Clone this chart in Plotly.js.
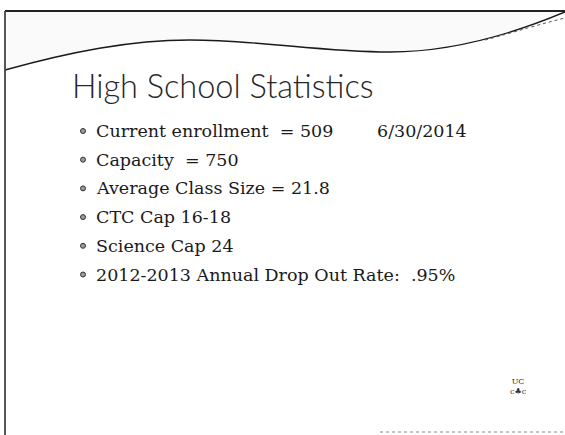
<!DOCTYPE html>
<html>
<head>
<meta charset="utf-8">
<script src="https://cdn.plot.ly/plotly-3.0.1.min.js"></script>
<style>html,body{margin:0;padding:0;background:#fff;}#chart{width:565px;height:435px;}</style>
</head>
<body>
<div id="chart"></div>
<script>
// ---- content ----
const slideTitle = "High School Statistics";
const bulletLabels = [
  "Current enrollment\u00a0\u00a0= 509",
  "Capacity\u00a0\u00a0= 750",
  "Average Class Size = 21.8",
  "CTC Cap 16-18",
  "Science Cap 24",
  "2012-2013 Annual Drop Out Rate:\u00a0\u00a0.95%"
];
const enrollmentDate = "6/30/2014";
const logoText = "UC";

// ---- layout constants (pixel space) ----
const W = 565, H = 435;
const rowTop = 131, rowStep = 28.7;
const bulletX = 83, textX = 94, dateX = 375;
const rowY = bulletLabels.map((_, i) => rowTop + i * rowStep);

const bodyFont = {family: "DejaVu Serif, Liberation Serif, serif", size: 17.5, color: "#1a1a1a"};

const annotations = [];
annotations.push({
  x: 70, y: 85, xref: "x", yref: "y", text: slideTitle, showarrow: false,
  xanchor: "left", yanchor: "middle",
  font: {family: "Lato, Open Sans, sans-serif", size: 32.5, color: "#262626", weight: 300}
});
bulletLabels.forEach((t, i) => {
  annotations.push({
    x: textX, y: rowY[i], xref: "x", yref: "y", text: t, showarrow: false,
    xanchor: "left", yanchor: "middle", font: bodyFont
  });
});
annotations.push({
  x: dateX, y: rowY[0], xref: "x", yref: "y", text: enrollmentDate, showarrow: false,
  xanchor: "left", yanchor: "middle", font: bodyFont
});
annotations.push({
  x: 518, y: 386, xref: "x", yref: "y", text: logoText + "<br>c\u2663c", showarrow: false,
  xanchor: "center", yanchor: "middle",
  font: {family: "DejaVu Serif, serif", size: 8, color: "#333"}
});

const shapes = [
  // stippled band under top border
  {type: "path", xref: "x", yref: "y",
   path: "M 5 12 L 565 12 L 565 12 C 500 35, 450 52, 390 52 C 320 52, 260 40, 190 40 C 130 40, 70 52, 5 70 Z",
   fillcolor: "rgba(120,120,120,0.035)", line: {width: 0}},
  // wave line
  {type: "path", xref: "x", yref: "y",
   path: "M 5 70 C 70 52, 130 40, 190 40 C 260 40, 320 52, 390 52 C 450 52, 510 35, 565 12",
   line: {color: "#1a1a1a", width: 1.4}},
  // secondary thin line top right
  {type: "path", xref: "x", yref: "y",
   path: "M 485 40 C 515 32, 540 24, 565 18",
   line: {color: "#555", width: 1, dash: "dot"}},
  // top border
  {type: "line", xref: "x", yref: "y", x0: 5, x1: 565, y0: 11, y1: 11, line: {color: "#222", width: 2}},
  // left border
  {type: "line", xref: "x", yref: "y", x0: 5, x1: 5, y0: 11, y1: 435, line: {color: "#444", width: 1.8}},
  // bottom dotted line
  {type: "line", xref: "x", yref: "y", x0: 380, x1: 565, y0: 432, y1: 432, line: {color: "#888", width: 1.2, dash: "dot"}}
];

const bulletTrace = {
  type: "scatter", mode: "markers",
  x: bulletLabels.map(() => bulletX), y: rowY,
  marker: {symbol: "circle", size: 5, color: "#9a9a9a", line: {color: "#333", width: 1}},
  hoverinfo: "skip", showlegend: false
};

const layout = {
  width: W, height: H,
  margin: {l: 0, r: 0, t: 0, b: 0},
  paper_bgcolor: "#ffffff", plot_bgcolor: "#ffffff",
  xaxis: {range: [0, W], visible: false, fixedrange: true},
  yaxis: {range: [H, 0], visible: false, fixedrange: true},
  annotations: annotations, shapes: shapes, showlegend: false
};

Plotly.newPlot("chart", [bulletTrace], layout, {displayModeBar: false, staticPlot: true});
</script>
</body>
</html>
